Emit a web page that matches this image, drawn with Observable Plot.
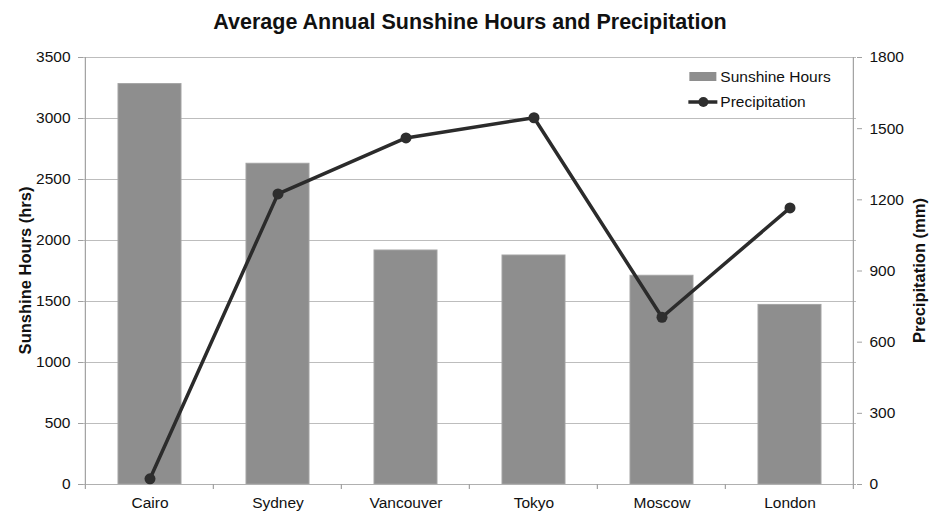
<!DOCTYPE html>
<html><head><meta charset="utf-8">
<script src="https://cdn.jsdelivr.net/npm/d3@7"></script>
<script src="https://cdn.jsdelivr.net/npm/@observablehq/plot@0.6"></script>
<style>
body{margin:0;background:#fff;font-family:"Liberation Sans",Arial,sans-serif;}
#title{height:40px;line-height:44px;text-align:center;font-weight:bold;font-size:21.5px;color:#111;width:940px;}
#chart{position:relative;width:940px;}
</style></head>
<body>
<div id="title">Average Annual Sunshine Hours and Precipitation</div>
<div id="chart"></div>
<script>
const cities = ["Cairo","Sydney","Vancouver","Tokyo","Moscow","London"];
const sunshine = [3282, 2629, 1918, 1877, 1711, 1472];
const precipitation = [24, 1225, 1461, 1546, 705, 1166];
const sunTicks = [0,500,1000,1500,2000,2500,3000,3500];
const precTicks = [0,300,600,900,1200,1500,1800];
const k = 3500/1800;

const data = cities.map((c,i)=>({city:c, sun:sunshine[i], prec:precipitation[i], precScaled:precipitation[i]*k}));

const plot = Plot.plot({
  width: 940, height: 479,
  marginLeft: 83, marginRight: 84, marginTop: 17, marginBottom: 35,
  style: {fontFamily: '"Liberation Sans", Arial, sans-serif', fontSize: "15.5px", color: "#111", background: "#fff"},
  x: {domain: cities, paddingInner: 0.51, paddingOuter: 0.255, label: null},
  y: {domain: [0,3500], label: null},
  marks: [
    Plot.gridY(sunTicks, {stroke: "#bdbdbd", strokeOpacity: 1, strokeWidth: 1.2}),
    Plot.barY(data, {x: "city", y: "sun", fill: "#8e8e8e", stroke: "#a3a3a3", strokeWidth: 1}),
    Plot.ruleY([0], {stroke: "#b0b0b0", strokeWidth: 1.2}),
    Plot.axisY({ticks: sunTicks, tickFormat: d3.format("d"), tickSize: 5, tickPadding: 8, stroke: "#a0a0a0", label: null}),
    Plot.axisY({anchor: "right", ticks: precTicks.map(v=>v*k), tickFormat: d => String(Math.round(d/k)),
      tickSize: 5, tickPadding: 8, stroke: "#a0a0a0", label: null}),
    Plot.axisX({tickSize: 0, tickPadding: 12, label: null}),
    Plot.line(data, {x: "city", y: "precScaled", stroke: "#2b2b2b", strokeWidth: 3.5}),
    Plot.dot(data, {x: "city", y: "precScaled", r: 5.5, fill: "#2e2e2e", stroke: "none"})
  ]
});
document.getElementById("chart").appendChild(plot);

const svg = d3.select(plot);
svg.selectAll("g[aria-label$='tick label']").attr("font-size", "15.5px");
const xs = plot.scale("x"), ys = plot.scale("y");
const step = xs.step;
const y0 = ys.apply(0), yTop = ys.apply(3500);
const xLeft = xs.apply(cities[0]) - step*0.255;
const xRight = xLeft + step*cities.length;
svg.append("line").attr("x1",xRight).attr("x2",xRight).attr("y1",yTop).attr("y2",y0).attr("stroke","#a0a0a0").attr("stroke-width",1.2);
svg.append("line").attr("x1",xLeft).attr("x2",xLeft).attr("y1",yTop).attr("y2",y0).attr("stroke","#a0a0a0").attr("stroke-width",1.2);
for (let i=0;i<=cities.length;i++){
  const bx = xLeft + step*i;
  svg.append("line").attr("x1",bx).attr("x2",bx).attr("y1",y0).attr("y2",y0+5).attr("stroke","#a0a0a0").attr("stroke-width",1.2);
}
// axis titles
const yMid = (y0 + yTop)/2;
svg.append("text").attr("transform",`translate(${xLeft-60},${yMid}) rotate(-90)`).attr("text-anchor","middle")
  .attr("dy","0.35em").attr("font-weight","bold").attr("font-size","16.5px").attr("fill","#111").text("Sunshine Hours (hrs)");
svg.append("text").attr("transform",`translate(${xRight+66},${yMid}) rotate(-90)`).attr("text-anchor","middle")
  .attr("dy","0.35em").attr("font-weight","bold").attr("font-size","16.5px").attr("fill","#111").text("Precipitation (mm)");
// legend
const lg = svg.append("g").attr("font-size","15.5px").attr("fill","#111").attr("text-anchor","start");
const lx = xRight - 164, ly = yTop + 15;
lg.append("rect").attr("x",lx).attr("y",ly).attr("width",27).attr("height",9).attr("fill","#8e8e8e");
lg.append("text").attr("x",lx+31).attr("y",ly+10).text("Sunshine Hours");
lg.append("line").attr("x1",lx-1).attr("x2",lx+28).attr("y1",ly+30).attr("y2",ly+30).attr("stroke","#2b2b2b").attr("stroke-width",3.5);
lg.append("circle").attr("cx",lx+14).attr("cy",ly+30).attr("r",5).attr("fill","#2e2e2e");
lg.append("text").attr("x",lx+31).attr("y",ly+35).text("Precipitation");
</script>
</body></html>
